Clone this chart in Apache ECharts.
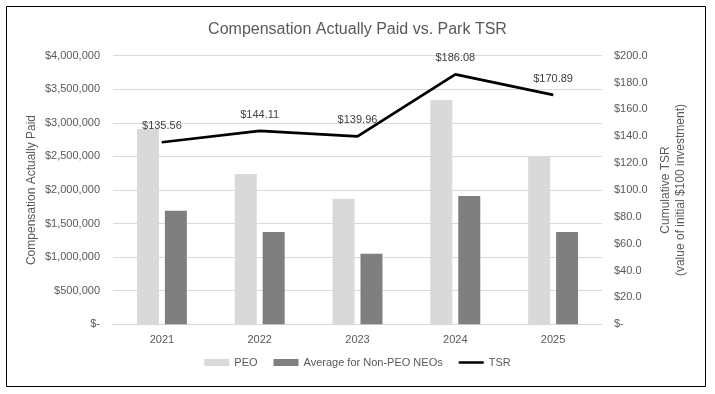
<!DOCTYPE html>
<html>
<head>
<meta charset="utf-8">
<script src="https://cdn.jsdelivr.net/npm/echarts@6/dist/echarts.min.js"></script>
<style>
html,body{margin:0;padding:0;background:#fff;}
#c{width:715px;height:394px;}
</style>
</head>
<body>
<div id="c"></div>
<script>
const categories = ['2021', '2022', '2023', '2024', '2025'];
const peo = [2910000, 2240000, 1870000, 3340000, 2490000];
const nonPeoNeos = [1690000, 1375000, 1050000, 1910000, 1375000];
const tsr = [135.56, 144.11, 139.96, 186.08, 170.89];
const leftTicks = { min: 0, max: 4000000, interval: 500000 };
const rightTicks = { min: 0, max: 200, interval: 20 };

const FONT = '"Liberation Sans", "DejaVu Sans", sans-serif';
const TXT = '#595959';

function fmtMoney(v) {
  if (v === 0) return '$-';
  return '$' + String(Math.round(v)).replace(/\B(?=(\d{3})+(?!\d))/g, ',');
}

const chart = echarts.init(document.getElementById('c'));
chart.setOption({
  animation: false,
  backgroundColor: '#fff',
  textStyle: { fontFamily: FONT },
  title: {
    text: 'Compensation Actually Paid vs. Park TSR',
    left: 'center',
    top: 17,
    textStyle: { fontFamily: FONT, fontSize: 16, fontWeight: 'normal', color: TXT }
  },
  graphic: [{
    type: 'rect',
    shape: { x: 6.5, y: 6.5, width: 699, height: 380 },
    style: { fill: 'none', stroke: '#000', lineWidth: 1 },
    silent: true, z: 100
  }],
  legend: {
    bottom: 21,
    left: 'center',
    itemGap: 16,
    itemWidth: 25,
    itemHeight: 7,
    textStyle: { fontFamily: FONT, fontSize: 11, color: TXT },
    data: [
      { name: 'PEO', icon: 'rect' },
      { name: 'Average for Non-PEO NEOs', icon: 'rect' },
      { name: 'TSR', icon: 'path://M0,0H30V3H0Z' }
    ]
  },
  grid: { left: 113, right: 113, top: 55.7, bottom: 69.7, containLabel: false },
  xAxis: {
    type: 'category',
    data: categories,
    axisLine: { lineStyle: { color: '#d9d9d9' } },
    axisTick: { show: false },
    axisLabel: { fontFamily: FONT, fontSize: 11, color: TXT, margin: 10 }
  },
  yAxis: [{
    type: 'value',
    min: leftTicks.min, max: leftTicks.max, interval: leftTicks.interval,
    name: 'Compensation Actually Paid',
    nameLocation: 'middle',
    nameGap: 75,
    nameMoveOverlap: false,
    nameTextStyle: { fontFamily: FONT, fontSize: 12, color: TXT },
    axisLine: { show: false },
    axisTick: { show: false },
    splitLine: { lineStyle: { color: '#d9d9d9' } },
    axisLabel: { fontFamily: FONT, fontSize: 11, color: TXT, margin: 13, formatter: fmtMoney }
  }, {
    type: 'value',
    position: 'right',
    min: rightTicks.min, max: rightTicks.max, interval: rightTicks.interval,
    name: 'Cumulative TSR\n(value of initial $100 investment)',
    nameLocation: 'middle',
    nameGap: 56,
    nameRotate: 90,
    nameTextStyle: { fontFamily: FONT, fontSize: 12, color: TXT, lineHeight: 15 },
    axisLine: { show: false },
    axisTick: { show: false },
    splitLine: { show: false },
    axisLabel: {
      fontFamily: FONT, fontSize: 11, color: TXT, margin: 12,
      formatter: v => v === 0 ? '$-' : '$' + v.toFixed(1)
    }
  }],
  series: [{
    name: 'PEO',
    type: 'bar',
    data: peo,
    barWidth: 22,
    barGap: '27%',
    itemStyle: { color: '#d9d9d9' }
  }, {
    name: 'Average for Non-PEO NEOs',
    type: 'bar',
    data: nonPeoNeos,
    barWidth: 22,
    itemStyle: { color: '#7f7f7f' }
  }, {
    name: 'TSR',
    type: 'line',
    yAxisIndex: 1,
    data: tsr,
    symbol: 'circle',
    symbolSize: 1,
    showSymbol: true,
    itemStyle: { color: '#000' },
    lineStyle: { color: '#000', width: 2.75 },
    z: 5,
    label: {
      show: true,
      position: 'top',
      distance: 10,
      fontFamily: FONT, fontSize: 11, color: '#404040',
      formatter: p => '$' + p.value.toFixed(2)
    }
  }]
});
</script>
</body>
</html>
